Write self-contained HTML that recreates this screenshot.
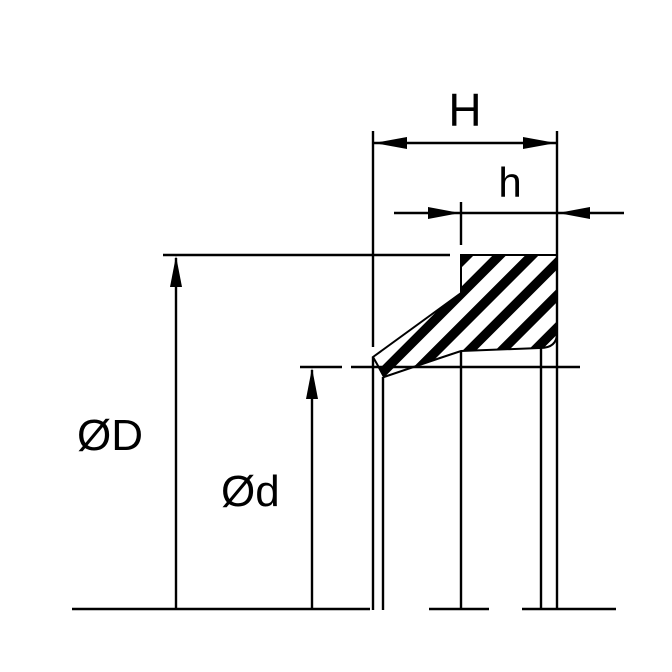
<!DOCTYPE html>
<html><head><style>body{margin:0;background:#fff}svg{display:block}text{font-family:"Liberation Sans",sans-serif;fill:#000}</style></head><body>
<svg width="672" height="672" viewBox="0 0 672 672">
<defs>
<pattern id="st" width="23" height="23" patternUnits="userSpaceOnUse" patternTransform="rotate(45)">
<rect x="0" y="0" width="9.5" height="23" fill="#000"/>
</pattern>
<clipPath id="cp"><path d="M461,255 L557,255 L557,333 Q557,348 540,348 L461,351 L440,358 L384,377 L377,364 L373,357 L461,293 Z"/></clipPath>
</defs>
<g stroke="#000" stroke-width="2.4" fill="none">
<rect x="350" y="240" width="220" height="150" fill="url(#st)" stroke="none" clip-path="url(#cp)"/>
<path d="M461,255 L557,255 L557,333 Q557,348 540,348 L461,351 L440,358 L384,377 L377,364 L373,357 L461,293 Z" stroke-width="2"/>
<!-- H dim -->
<line x1="373" y1="131" x2="373" y2="347"/>
<line x1="557" y1="131" x2="557" y2="610"/>
<line x1="373" y1="143" x2="557" y2="143"/>
<!-- h dim -->
<line x1="394" y1="213" x2="624" y2="213"/>
<line x1="461" y1="202" x2="461" y2="245"/>
<!-- top D line -->
<line x1="163" y1="255" x2="450" y2="255"/>
<line x1="176" y1="258" x2="176" y2="608"/>
<!-- d line -->
<line x1="300" y1="367" x2="342" y2="367"/>
<line x1="351" y1="367" x2="580" y2="367"/>
<line x1="312" y1="370" x2="312" y2="608"/>
<!-- verticals -->
<line x1="373" y1="357" x2="373" y2="610"/>
<line x1="383" y1="377" x2="383" y2="610"/>
<line x1="461" y1="351" x2="461" y2="610"/>
<line x1="541" y1="348" x2="541" y2="610"/>
<!-- bottom -->
<line x1="72" y1="609" x2="370" y2="609"/>
<line x1="429" y1="609" x2="489" y2="609"/>
<line x1="522" y1="609" x2="616" y2="609"/>
</g>
<g fill="#000">
<polygon points="374,143 407,137 407,149"/>
<polygon points="556,143 523,137 523,149"/>
<polygon points="460,213 428,207 428,219"/>
<polygon points="558,213 590,207 590,219"/>
<polygon points="176,256 170,287 182,287"/>
<polygon points="312,368 306,399 318,399"/>
</g>
<text x="465" y="126" font-size="46" text-anchor="middle">H</text>
<text x="510" y="197" font-size="42" text-anchor="middle">h</text>
<text x="77" y="450" font-size="44">ØD</text>
<text x="221" y="506" font-size="44">Ød</text>
</svg>
</body></html>
